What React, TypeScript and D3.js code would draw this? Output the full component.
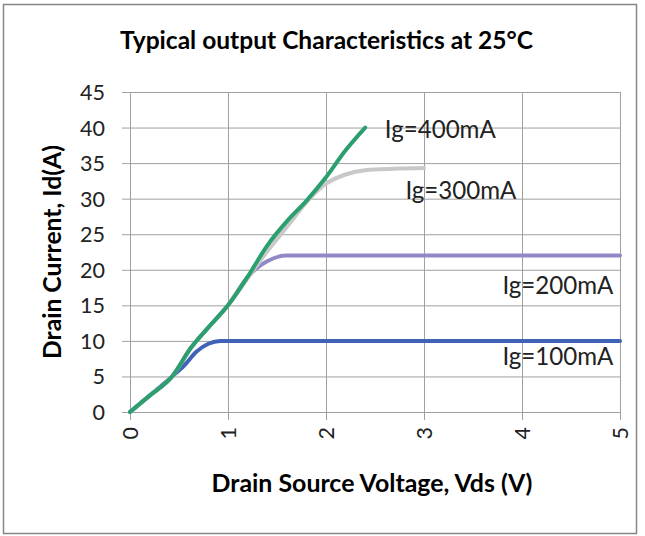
import React, { useRef, useEffect } from "react";
import * as d3 from "d3";

// Ig curves (Vds in V, Id in A)
const vds100 = [0, 0.2, 0.43, 0.55, 0.68, 0.8, 0.92, 1.2, 2, 3, 4, 5];
const id100 = [0, 2.3, 5, 6.5, 8.5, 9.6, 10, 10, 10, 10, 10, 10];

const vds200 = [0, 0.2, 0.43, 0.62, 0.8, 1, 1.22, 1.3, 1.4, 1.6, 2, 3, 4, 5];
const id200 = [0, 2.3, 5, 9, 11.9, 15, 19.3, 20.3, 21.2, 22, 22, 22, 22, 22];

const vds300 = [0, 0.2, 0.43, 0.62, 0.8, 1, 1.2, 1.4, 1.6, 1.84, 2, 2.2, 2.4, 2.7, 3];
const id300 = [0, 2.3, 5, 9, 11.9, 15, 18.8, 22.6, 26, 30.1, 32.1, 33.4, 34, 34.2, 34.3];

const vds400 = [0, 0.2, 0.43, 0.62, 0.8, 1, 1.2, 1.4, 1.6, 1.8, 2, 2.2, 2.4];
const id400 = [0, 2.3, 5, 9, 11.9, 15, 19, 23.4, 26.8, 29.7, 33, 36.8, 40];

const seriesNames = ["Ig=100mA", "Ig=200mA", "Ig=300mA", "Ig=400mA"];
const xTicks = [0, 1, 2, 3, 4, 5];
const yTicks = [0, 5, 10, 15, 20, 25, 30, 35, 40, 45];

const title = "Typical output Characteristics at 25°C";
const xTitle = "Drain Source Voltage, Vds (V)";
const yTitle = "Drain Current, Id(A)";

const W = 645;
const H = 536;
const margin = { top: 92, right: 25, bottom: 124, left: 130 };
const font = "Lato, 'Open Sans', sans-serif";

// drawing order: 100, 200, 300, then 400 on top
const colors = ["#3F63B6", "#9189C6", "#C8C8C8", "#2C9F6E"];
// label placement (data coords of left edge / centre) for each curve
const labelPos = [
  { x: 3.8, y: 7.9 },
  { x: 3.8, y: 17.9 },
  { x: 2.81, y: 31.3 },
  { x: 2.6, y: 39.8 },
];

// scale a text's font size so that it spans the given width
function fitWidth(sel: any, base: number, target: number) {
  sel.attr("font-size", base);
  const len = (sel.node() as SVGTextElement).getComputedTextLength();
  const size = len > 0 ? (base * target) / len : base;
  sel.attr("font-size", size);
  return size;
}

function App() {
  const svgRef = useRef<SVGSVGElement>(null);

  useEffect(() => {
    const svg = d3.select(svgRef.current);
    svg.selectAll("*").remove();

    const xScale = d3
      .scaleLinear()
      .domain([0, 5])
      .range([margin.left, W - margin.right]);
    const yScale = d3
      .scaleLinear()
      .domain([0, 45])
      .range([H - margin.bottom, margin.top]);

    // outer frame
    svg
      .append("rect")
      .attr("x", 3.5)
      .attr("y", 4.5)
      .attr("width", 633)
      .attr("height", 529)
      .attr("fill", "#fff")
      .attr("stroke", "#868686")
      .attr("stroke-width", 1.5);

    // title
    const t = svg
      .append("text")
      .attr("x", 326.5)
      .attr("y", 43)
      .attr("text-anchor", "middle")
      .attr("dominant-baseline", "middle")
      .attr("font-family", font)
      .attr("font-weight", "bold")
      .text(title);
    fitWidth(t, 20, 413);

    const gridColor = "#A0A0A0";

    // horizontal grid + y ticks
    svg
      .append("g")
      .attr("transform", `translate(${margin.left},0)`)
      .call(
        d3
          .axisLeft(yScale)
          .tickValues(yTicks)
          .tickSize(-(W - margin.left - margin.right))
          .tickFormat(() => ""),
      )
      .call((g) => g.select(".domain").remove())
      .call((g) => g.selectAll("line").attr("stroke", gridColor).attr("x1", -8));

    // vertical grid + x ticks
    svg
      .append("g")
      .attr("transform", `translate(0,${H - margin.bottom})`)
      .call(
        d3
          .axisBottom(xScale)
          .tickValues(xTicks)
          .tickSize(-(H - margin.top - margin.bottom))
          .tickFormat(() => ""),
      )
      .call((g) => g.select(".domain").remove())
      .call((g) => g.selectAll("line").attr("stroke", gridColor).attr("y1", 8));

    // tick font size from the width of "45"
    const probe = svg
      .append("text")
      .attr("font-family", font)
      .text(String(d3.max(yTicks)));
    const tickSize = fitWidth(probe, 18, 25);
    probe.remove();

    // y tick labels
    svg
      .append("g")
      .selectAll("text")
      .data(yTicks)
      .enter()
      .append("text")
      .attr("x", 105)
      .attr("y", (d) => yScale(d))
      .attr("text-anchor", "end")
      .attr("dominant-baseline", "central")
      .attr("font-family", font)
      .attr("font-size", tickSize)
      .attr("fill", "#222")
      .text((d) => d);

    // x tick labels (rotated)
    svg
      .append("g")
      .selectAll("text")
      .data(xTicks)
      .enter()
      .append("text")
      .attr(
        "transform",
        (d) => `translate(${xScale(d)},${H - margin.bottom + 15}) rotate(-90)`,
      )
      .attr("text-anchor", "end")
      .attr("dominant-baseline", "central")
      .attr("font-family", font)
      .attr("font-size", tickSize)
      .attr("fill", "#222")
      .text((d) => d);

    // axis titles
    const xt = svg
      .append("text")
      .attr("x", 372)
      .attr("y", 486)
      .attr("text-anchor", "middle")
      .attr("dominant-baseline", "middle")
      .attr("font-family", font)
      .attr("font-weight", "bold")
      .text(xTitle);
    fitWidth(xt, 20, 321);

    const yt = svg
      .append("text")
      .attr("transform", `translate(55,252) rotate(-90)`)
      .attr("text-anchor", "middle")
      .attr("dominant-baseline", "middle")
      .attr("font-family", font)
      .attr("font-weight", "bold")
      .text(yTitle);
    fitWidth(yt, 20, 214);

    // curves
    const series = [
      d3.zip(vds100, id100),
      d3.zip(vds200, id200),
      d3.zip(vds300, id300),
      d3.zip(vds400, id400),
    ];
    const line = d3
      .line<number[]>()
      .x((d) => xScale(d[0]))
      .y((d) => yScale(d[1]))
      .curve(d3.curveMonotoneX);

    series.forEach((s, i) => {
      svg
        .append("path")
        .datum(s)
        .attr("fill", "none")
        .attr("stroke", colors[i])
        .attr("stroke-width", 4)
        .attr("stroke-linecap", "round")
        .attr("stroke-linejoin", "round")
        .attr("d", line);
    });

    // series labels
    seriesNames.forEach((name, i) => {
      const lbl = svg
        .append("text")
        .attr("x", xScale(labelPos[i].x))
        .attr("y", yScale(labelPos[i].y))
        .attr("dominant-baseline", "central")
        .attr("font-family", font)
        .attr("fill", "#222")
        .text(name);
      fitWidth(lbl, 19, 111);
    });
  }, []);

  return (
    <svg
      ref={svgRef}
      width={W}
      height={H}
      style={{ position: "absolute", left: 0, top: 0 }}
    />
  );
}

export default App;
